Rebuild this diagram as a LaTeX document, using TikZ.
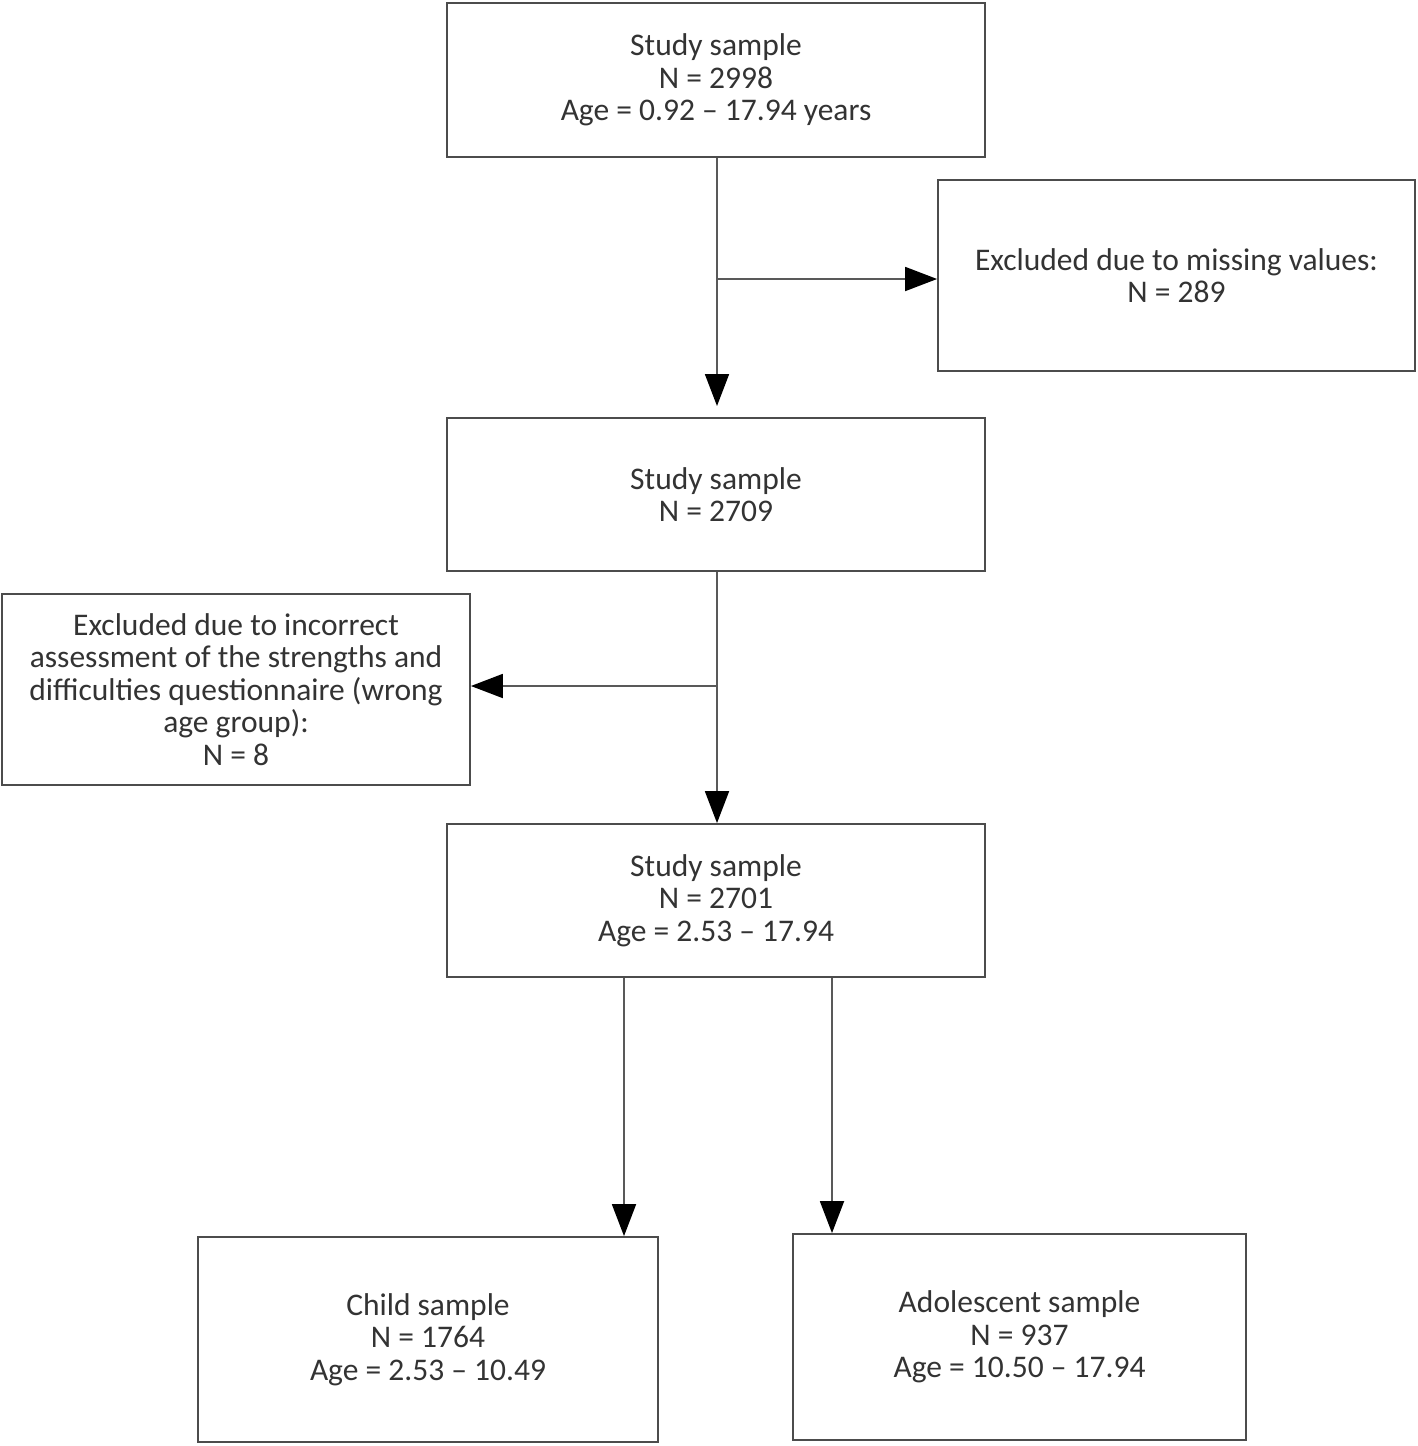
\documentclass[tikz,border=0pt]{standalone}
\usepackage{fontspec}
\setmainfont{Carlito}
\usetikzlibrary{arrows.meta}
\begin{document}
\begin{tikzpicture}[x=1pt,y=-1pt,
  box/.style={draw=black!70,line width=1.8pt,align=center,text=black!80,
    font=\fontsize{31.5}{32.5}\selectfont,inner sep=0pt},
  conn/.style={draw=black!65,line width=1.8pt},
  arr/.style={conn,-{Triangle[length=32pt,width=24pt,fill=black,color=black]}}]
\useasboundingbox[fill=white] (0,0) rectangle (1418,1446);
\node[box,minimum width=538pt,minimum height=154pt] (s1) at (716,80) {Study sample\\N = 2998\\Age = 0.92 -- 17.94 years};
\node[box,minimum width=477pt,minimum height=191pt] (ex1) at (1176.5,275.5) {Excluded due to missing values:\\N = 289};
\node[box,minimum width=538pt,minimum height=153pt] (s2) at (716,494.5) {Study sample\\N = 2709};
\node[box,minimum width=468pt,minimum height=191pt] (ex2) at (236,689.5) {Excluded due to incorrect\\assessment of the strengths and\\difficulties questionnaire (wrong\\age group):\\N = 8};
\node[box,minimum width=538pt,minimum height=153pt] (s3) at (716,900.5) {Study sample\\N = 2701\\Age = 2.53 -- 17.94};
\node[box,minimum width=460pt,minimum height=205pt] (ch) at (428,1339.5) {Child sample\\N = 1764\\Age = 2.53 -- 10.49};
\node[box,minimum width=453pt,minimum height=206pt] (ad) at (1019.5,1337) {Adolescent sample\\N = 937\\Age = 10.50 -- 17.94};
\coordinate (t1) at (717,406);
\coordinate (j1) at (717,279);
\coordinate (j2) at (717,686);
\draw[arr] (s1.south -| t1) -- (t1);
\draw[arr] (j1) -- (j1 -| ex1.west);
\draw[arr] (s2.south -| j2) -- (j2 |- s3.north);
\draw[arr] (j2) -- (j2 -| ex2.east);
\draw[arr] (s3.south -| ch.north) ++(196,0) coordinate (c1) -- (c1 |- ch.north);
\draw[arr] (s3.south -| ch.north) ++(404,0) coordinate (c2) -- (c2 |- ad.north);
\end{tikzpicture}
\end{document}
